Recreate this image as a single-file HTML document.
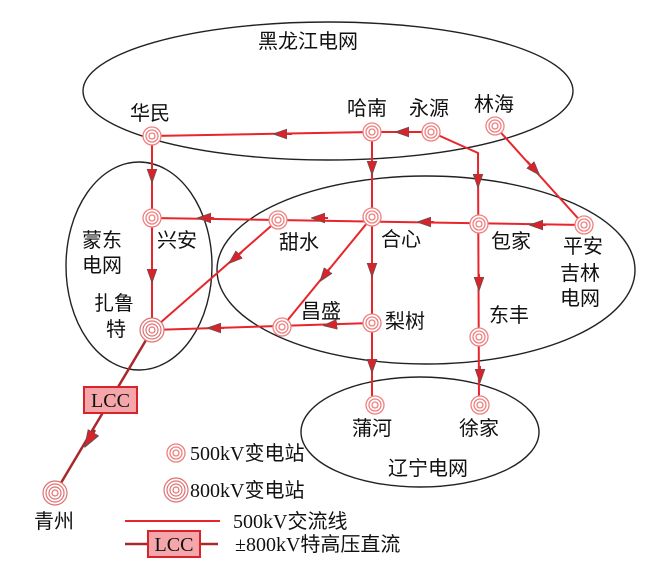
<!DOCTYPE html>
<html><head><meta charset="utf-8"><style>body{margin:0;background:#fff}svg{display:block}text{font-family:"Liberation Serif","Noto Sans CJK SC",sans-serif;font-size:20px;fill:#111}</style></head><body>
<svg width="667" height="573" viewBox="0 0 667 573" xmlns="http://www.w3.org/2000/svg">
<defs>
<marker id="a" viewBox="0 0 10 10" refX="5" refY="5" markerWidth="7" markerHeight="7" orient="auto"><path d="M0,1.5 L10,5 L0,8.5 z" fill="#d9232a" stroke="#555" stroke-width="0.5"/></marker>
<g id="n"><circle r="9" fill="#fff" stroke="#f08080" stroke-width="1.3"/><circle r="6" fill="none" stroke="#f08080" stroke-width="1.3"/><circle r="3" fill="none" stroke="#f08080" stroke-width="1.3"/></g>
<g id="b"><circle r="12" fill="#fff" stroke="#e07070" stroke-width="1.2"/><circle r="9" fill="none" stroke="#e07070" stroke-width="1.2"/><circle r="6" fill="none" stroke="#e07070" stroke-width="1.2"/><circle r="3" fill="none" stroke="#e07070" stroke-width="1.2"/></g>
</defs>
<g fill="none" stroke="#222" stroke-width="1.4">
<ellipse cx="328" cy="91" rx="245" ry="69"/>
<ellipse cx="139" cy="266" rx="73" ry="104"/>
<ellipse cx="426" cy="270" rx="209" ry="94"/>
<ellipse cx="420" cy="432" rx="119" ry="55"/>
</g>
<g stroke="#e8252b" stroke-width="2" fill="none">
<path d="M431,132 L372,132"/><path d="M412,132 L402,132" marker-end="url(#a)"/>
<path d="M372,132 L152,136"/><path d="M292,134 L280,134" marker-end="url(#a)"/>
<path d="M152,136 L152,330"/><path d="M152,166 L152,176" marker-end="url(#a)"/><path d="M152,266 L152,276" marker-end="url(#a)"/>
<path d="M431,132 L478,153 L479,405"/><path d="M478,171 L478,181" marker-end="url(#a)"/><path d="M479,274 L479,284" marker-end="url(#a)"/><path d="M480,366 L480,376" marker-end="url(#a)"/>
<path d="M495,126 L584,225"/><path d="M527,161 L535,170" marker-end="url(#a)"/>
<path d="M584,225 L152,218"/><path d="M546,225 L536,225" marker-end="url(#a)"/><path d="M434,222 L424,222" marker-end="url(#a)"/><path d="M328,218 L318,218" marker-end="url(#a)"/><path d="M214,218 L204,218" marker-end="url(#a)"/>
<path d="M372,132 L372,405"/><path d="M372,158 L372,168" marker-end="url(#a)"/><path d="M372,260 L372,270" marker-end="url(#a)"/><path d="M372,356 L372,366" marker-end="url(#a)"/>
<path d="M372,323 L152,330"/><path d="M340,324 L330,325" marker-end="url(#a)"/><path d="M224,328 L214,328" marker-end="url(#a)"/>
<path d="M372,217 L282,327"/><path d="M330,268 L324,276" marker-end="url(#a)"/>
<path d="M278,220 L152,330"/><path d="M242,252 L234,259" marker-end="url(#a)"/>
<path d="M125,521 L220,521"/>
</g>
<g stroke="#a8282c" stroke-width="2.5" fill="none">
<path d="M152,330 L55,493"/><path d="M95,430 L89,440" marker-end="url(#a)"/>
<path d="M125,544 L218,544"/>
</g>
<rect x="84" y="387" width="53" height="26" fill="#f4a6aa" stroke="#d9232a" stroke-width="2"/>
<text x="110.5" y="407" text-anchor="middle">LCC</text>
<rect x="148" y="531" width="52" height="26" fill="#f4a6aa" stroke="#d9232a" stroke-width="2"/>
<text x="174" y="551" text-anchor="middle">LCC</text>
<use href="#n" x="152" y="136"/><use href="#n" x="372" y="132"/><use href="#n" x="431" y="132"/><use href="#n" x="495" y="126"/>
<use href="#n" x="152" y="218"/><use href="#n" x="278" y="220"/><use href="#n" x="372" y="217"/><use href="#n" x="479" y="224"/><use href="#n" x="584" y="225"/>
<use href="#n" x="282" y="327"/><use href="#n" x="372" y="323"/><use href="#n" x="479" y="337"/>
<use href="#n" x="375" y="405"/><use href="#n" x="480" y="405"/>
<use href="#b" x="152" y="330"/><use href="#b" x="55" y="493"/>
<use href="#n" x="176" y="453"/><use href="#b" x="176" y="490"/>
<text x="258" y="48">黑龙江电网</text>
<text x="130" y="120">华民</text><text x="347" y="115">哈南</text><text x="409" y="115">永源</text><text x="474" y="111">林海</text>
<text x="82" y="247">蒙东</text><text x="82" y="272">电网</text><text x="157" y="247">兴安</text>
<text x="94" y="310">扎鲁</text><text x="106" y="336">特</text>
<text x="279" y="249">甜水</text><text x="381" y="246">合心</text><text x="491" y="248">包家</text>
<text x="563" y="253">平安</text><text x="560" y="280">吉林</text><text x="560" y="305">电网</text>
<text x="301" y="318">昌盛</text><text x="385" y="328">梨树</text><text x="489" y="322">东丰</text>
<text x="352" y="435">蒲河</text><text x="459" y="435">徐家</text>
<text x="388" y="475">辽宁电网</text>
<text x="34" y="528">青州</text>
<text x="190" y="460">500kV变电站</text><text x="190" y="497">800kV变电站</text>
<text x="233" y="528">500kV交流线</text><text x="235" y="551">±800kV特高压直流</text>
</svg>
</body></html>
